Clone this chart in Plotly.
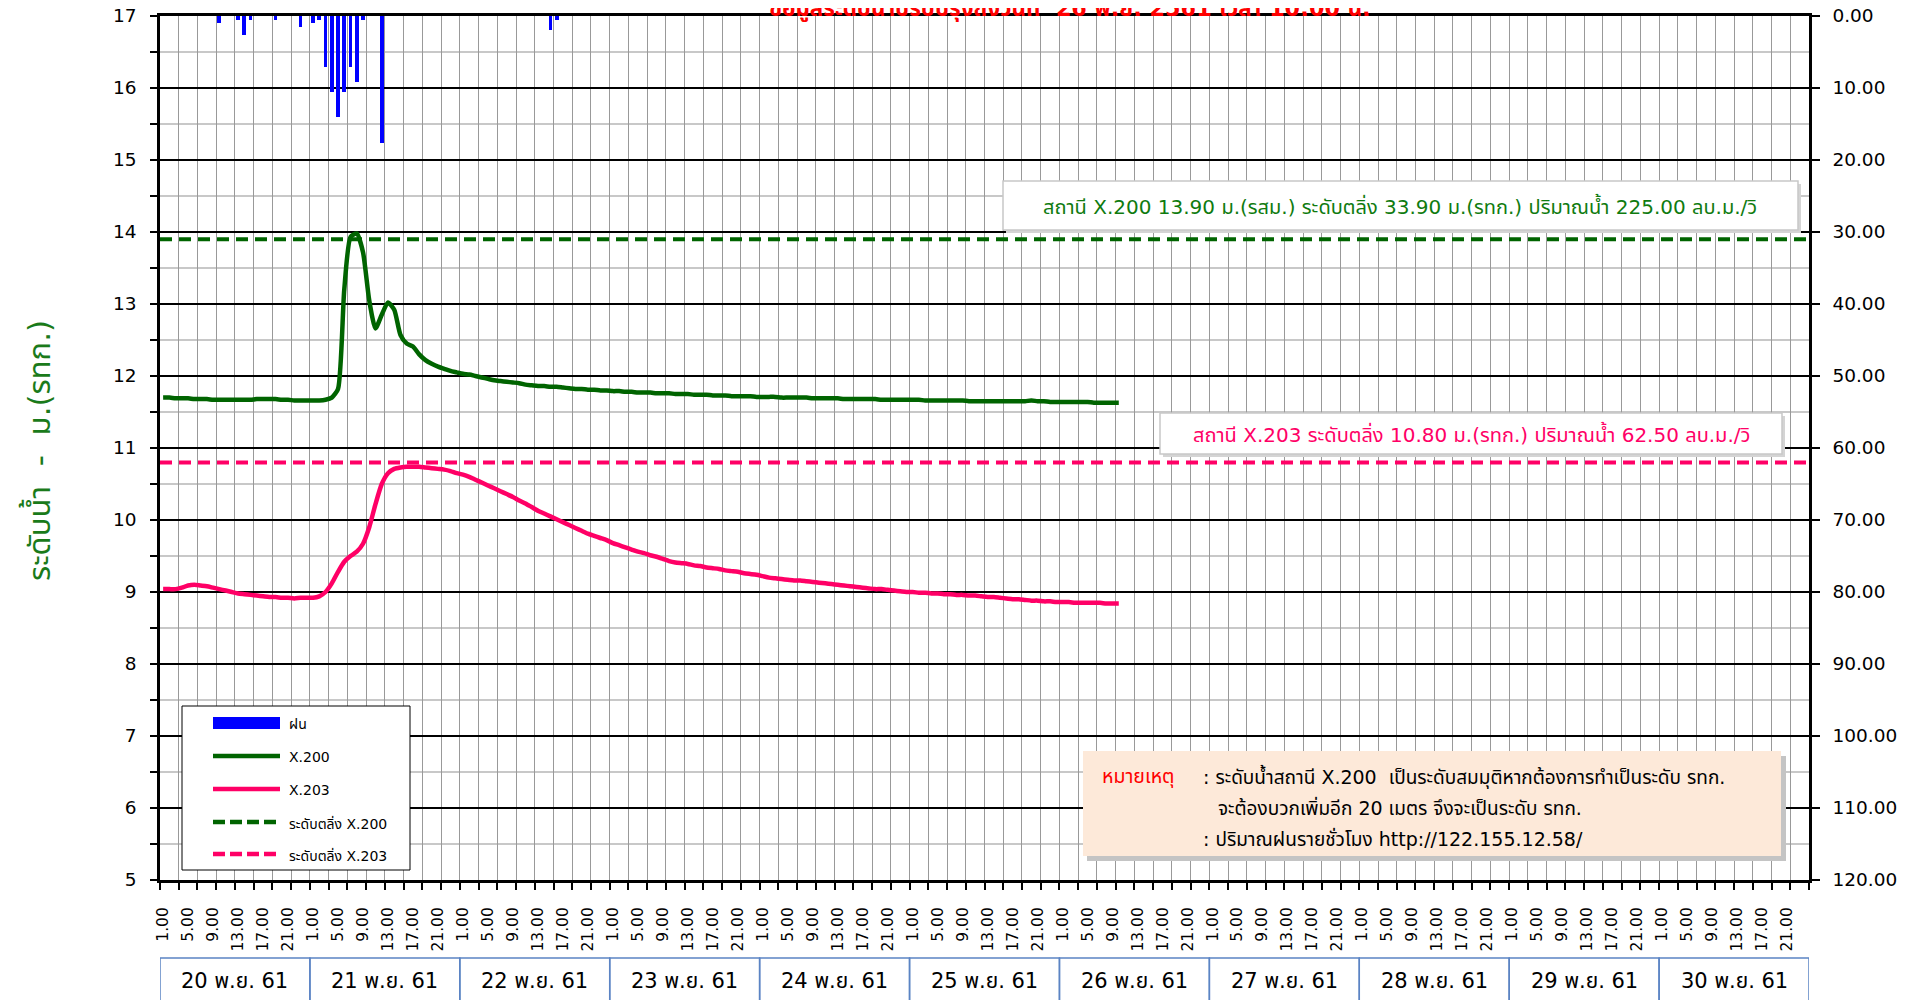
import plotly.graph_objects as go

# ---------------- data ----------------
days = ["20 พ.ย. 61", "21 พ.ย. 61", "22 พ.ย. 61", "23 พ.ย. 61", "24 พ.ย. 61",
        "25 พ.ย. 61", "26 พ.ย. 61", "27 พ.ย. 61", "28 พ.ย. 61", "29 พ.ย. 61",
        "30 พ.ย. 61"]
hour_labels = ["1.00", "5.00", "9.00", "13.00", "17.00", "21.00"]
slots_per_day = 24
label_step = 4
grid_step = 3

# hourly water level (m.) starting 20 Nov 1:00, last reading 26 Nov 10:00
x200_level = [
    11.70, 11.70, 11.69, 11.69, 11.69, 11.68, 11.68, 11.68, 11.67, 11.67,
    11.67, 11.67, 11.67, 11.67, 11.67, 11.68, 11.68, 11.68, 11.68, 11.67,
    11.67, 11.66, 11.66, 11.66, 11.66, 11.66, 11.67, 11.70, 11.82, 13.20,
    13.93, 13.98, 13.72, 13.05, 12.66, 12.85, 13.02, 12.92, 12.57, 12.45,
    12.41, 12.30, 12.22, 12.17, 12.13, 12.10, 12.07, 12.05, 12.03, 12.02,
    12.00, 11.98, 11.96, 11.94, 11.93, 11.92, 11.91, 11.90, 11.88, 11.87,
    11.86, 11.86, 11.85, 11.85, 11.84, 11.83, 11.82, 11.82, 11.81, 11.81,
    11.80, 11.80, 11.79, 11.79, 11.78, 11.78, 11.77, 11.77, 11.77, 11.76,
    11.76, 11.76, 11.75, 11.75, 11.75, 11.74, 11.74, 11.74, 11.73, 11.73,
    11.73, 11.72, 11.72, 11.72, 11.72, 11.71, 11.71, 11.71, 11.71, 11.70,
    11.70, 11.70, 11.70, 11.70, 11.69, 11.69, 11.69, 11.69, 11.69, 11.68,
    11.68, 11.68, 11.68, 11.68, 11.68, 11.67, 11.67, 11.67, 11.67, 11.67,
    11.67, 11.67, 11.66, 11.66, 11.66, 11.66, 11.66, 11.66, 11.66, 11.65,
    11.65, 11.65, 11.65, 11.65, 11.65, 11.65, 11.65, 11.65, 11.65, 11.66,
    11.65, 11.65, 11.64, 11.64, 11.64, 11.64, 11.64, 11.64, 11.64, 11.63,
    11.63, 11.63, 11.63, 11.63,
]
x203_level = [
    9.04, 9.04, 9.04, 9.06, 9.09, 9.10, 9.09, 9.08, 9.06, 9.04,
    9.02, 9.00, 8.98, 8.97, 8.96, 8.95, 8.94, 8.93, 8.93, 8.92,
    8.92, 8.91, 8.92, 8.92, 8.92, 8.94, 9.00, 9.12, 9.28, 9.42,
    9.50, 9.56, 9.67, 9.90, 10.22, 10.50, 10.65, 10.71, 10.73, 10.74,
    10.74, 10.74, 10.73, 10.72, 10.71, 10.70, 10.68, 10.65, 10.63, 10.60,
    10.56, 10.52, 10.48, 10.44, 10.40, 10.36, 10.32, 10.27, 10.23, 10.18,
    10.13, 10.09, 10.05, 10.01, 9.97, 9.93, 9.89, 9.85, 9.81, 9.78,
    9.75, 9.72, 9.68, 9.65, 9.62, 9.59, 9.56, 9.54, 9.51, 9.49,
    9.46, 9.43, 9.41, 9.40, 9.39, 9.37, 9.36, 9.34, 9.33, 9.32,
    9.30, 9.29, 9.28, 9.26, 9.25, 9.24, 9.22, 9.20, 9.19, 9.18,
    9.17, 9.16, 9.16, 9.15, 9.14, 9.13, 9.12, 9.11, 9.10, 9.09,
    9.08, 9.07, 9.06, 9.05, 9.04, 9.04, 9.03, 9.02, 9.01, 9.00,
    9.00, 8.99, 8.99, 8.98, 8.98, 8.97, 8.97, 8.96, 8.96, 8.95,
    8.95, 8.94, 8.93, 8.93, 8.92, 8.91, 8.90, 8.90, 8.89, 8.88,
    8.88, 8.87, 8.87, 8.86, 8.86, 8.86, 8.85, 8.85, 8.85, 8.85,
    8.85, 8.84, 8.84, 8.84,
]
# hourly rainfall (mm.), slot index counted from 20 Nov 1:00
rain_slot = [9, 12, 13, 14, 18, 22, 24, 25, 26, 27, 28, 29, 30, 31, 32, 35, 62, 63]
rain_mm = [1.0, 0.5, 2.6, 0.5, 0.5, 1.5, 1.0, 0.5, 7.1, 10.5, 14.0, 10.5, 7.1, 9.1,
           0.5, 17.6, 2.0, 0.5]
bank_x200 = 13.90
bank_x203 = 10.80

series_names = ["ฝน", "X.200", "X.203", "ระดับตลิ่ง X.200", "ระดับตลิ่ง X.203"]
title_text = "ข้อมูลระดับน้ำปรับปรุงถึงวันที่  26 พ.ย. 2561 เวลา 10:00 น."
x200_note = "สถานี X.200 13.90 ม.(รสม.) ระดับตลิ่ง 33.90 ม.(รทก.) ปริมาณน้ำ 225.00 ลบ.ม./วิ"
x203_note = "สถานี X.203 ระดับตลิ่ง 10.80 ม.(รทก.) ปริมาณน้ำ 62.50 ลบ.ม./วิ"
remark_head = "หมายเหตุ"
remark_lines = [": ระดับน้ำสถานี X.200  เป็นระดับสมมุติหากต้องการทำเป็นระดับ รทก.",
                "จะต้องบวกเพิ่มอีก 20 เมตร จึงจะเป็นระดับ รทก.",
                ": ปริมาณฝนรายชั่วโมง http://122.155.12.58/"]
y_title = "ระดับน้ำ  -  ม.(รทก.)"

# ---------------- layout helpers (page pixel coords) ----------------
OFF = 8                      # default page body margin
FIG_W, FIG_H = 1923 - OFF, 1000 - OFF
PL, PR, PT, PB = 160, 1809, 16, 880   # plot area in page pixels
PW, PH = PR - PL, PB - PT


def px(x):
    return (x - PL) / PW


def py(y):
    return (PB - y) / PH


n_slots = len(days) * slots_per_day
FONT = "Tahoma, 'DejaVu Sans', 'Noto Sans Thai', 'Noto Sans', sans-serif"
GREEN = "#006400"
PINK = "#ff0066"
BLUE = "#0000ff"

tickvals, ticktext = [], []
for d in range(len(days)):
    for k, lab in enumerate(hour_labels):
        tickvals.append(d * slots_per_day + k * label_step + 0.5)
        ticktext.append(lab)

fig = go.Figure()
fig.add_trace(go.Bar(
    x=[s + 0.5 for s in rain_slot], y=rain_mm, yaxis="y2", name=series_names[0],
    width=0.6, marker=dict(color=BLUE, line=dict(width=0))))
fig.add_trace(go.Scatter(
    x=[i + 0.5 for i in range(len(x200_level))], y=x200_level, mode="lines",
    name=series_names[1], line=dict(color=GREEN, width=4.5, shape="spline", smoothing=0.6)))
fig.add_trace(go.Scatter(
    x=[i + 0.5 for i in range(len(x203_level))], y=x203_level, mode="lines",
    name=series_names[2], line=dict(color=PINK, width=4.5, shape="spline", smoothing=0.6)))
fig.add_trace(go.Scatter(
    x=[0, n_slots], y=[bank_x200, bank_x200], mode="lines", xaxis="x2",
    name=series_names[3], line=dict(color=GREEN, width=4, dash="12px,7px")))
fig.add_trace(go.Scatter(
    x=[0, n_slots], y=[bank_x203, bank_x203], mode="lines", xaxis="x2",
    name=series_names[4], line=dict(color=PINK, width=4, dash="12px,7px")))

shapes = []
annotations = []


def ann(x, y, text, size, color, xanchor="center", yanchor="middle", **kw):
    d = dict(x=px(x), y=py(y), xref="paper", yref="paper", text=text, showarrow=False,
             xanchor=xanchor, yanchor=yanchor,
             font=dict(size=size, color=color, family=FONT))
    d.update(kw)
    annotations.append(d)


def rect(x0, y0, x1, y1, fill, line_color=None, lw=0):
    shapes.append(dict(type="rect", xref="paper", yref="paper",
                       x0=px(x0), x1=px(x1), y0=py(y1), y1=py(y0), fillcolor=fill,
                       line=dict(color=line_color or "rgba(0,0,0,0)", width=lw), layer="above"))


# day boxes under the axis
for d, lab in enumerate(days):
    shapes.append(dict(type="rect", xref="x", yref="paper",
                       x0=d * slots_per_day, x1=(d + 1) * slots_per_day,
                       y0=py(1015), y1=py(958),
                       line=dict(color="#5b84c4", width=1.5), fillcolor="rgba(0,0,0,0)"))
    annotations.append(dict(x=d * slots_per_day + slots_per_day / 2, y=py(981),
                            xref="x", yref="paper", text=lab, showarrow=False,
                            xanchor="center", yanchor="middle",
                            font=dict(size=21, color="black", family=FONT)))

# station boxes
rect(1006, 184, 1801, 233, "#d4d4d4")
rect(1003, 181, 1798, 230, "white", "#c8c8c8", 1.5)
ann(1400, 206, x200_note, 20, "#0f7b0f")
rect(1163, 416, 1785, 457, "#d4d4d4")
rect(1160, 413, 1782, 454, "white", "#c8c8c8", 1.5)
ann(1471, 434, x203_note, 20, PINK)

# remark box
rect(1087, 756, 1786, 861, "#c4c4c4")
rect(1083, 751, 1781, 856, "#fde9d9")
ann(1100, 776, remark_head, 19.5, "#ff0000", xanchor="left")
for txt, xx, yy in zip(remark_lines, [1201, 1216, 1201], [776, 807, 838]):
    ann(xx, yy, txt, 19, "black", xanchor="left")

# legend (drawn box)
rect(182, 706, 410, 870, "white", "black", 1)
leg_y = [723, 756, 789, 822, 854]
shapes.append(dict(type="rect", xref="paper", yref="paper", x0=px(213), x1=px(280),
                   y0=py(729), y1=py(717), fillcolor=BLUE, line=dict(width=0), layer="above"))
for yy, col, dash in zip(leg_y[1:], [GREEN, PINK, GREEN, PINK],
                         ["solid", "solid", "12px,5px", "12px,5px"]):
    shapes.append(dict(type="line", xref="paper", yref="paper", x0=px(213), x1=px(280),
                       y0=py(yy), y1=py(yy), line=dict(color=col, width=4.5, dash=dash),
                       layer="above"))
for yy, name in zip(leg_y, series_names):
    ann(287, yy + 1, name, 14, "black", xanchor="left")

# title (partly cut at top edge, as in the original) and y-axis title
ann(1070, 7, "<b>" + title_text + "</b>", 22.3, "#ff0000")
ann(37, 451, y_title, 31, "#1a7a1a", textangle=-90)

fig.update_layout(
    width=FIG_W, height=FIG_H, autosize=False,
    margin=dict(l=PL - OFF, r=FIG_W - (PR - OFF), t=PT - OFF, b=FIG_H - (PB - OFF), pad=0),
    paper_bgcolor="white", plot_bgcolor="white",
    font=dict(family=FONT, color="black"),
    showlegend=False,
    bargap=0,
    xaxis=dict(range=[0, n_slots], tickmode="linear", tick0=0, dtick=grid_step,
               showgrid=True, gridcolor="#999999", gridwidth=1.3,
               ticks="outside", ticklen=7, tickwidth=1.5, tickcolor="black",
               showticklabels=False, showline=True, linecolor="black", linewidth=2.5,
               mirror=True, zeroline=False, automargin=False),
    xaxis2=dict(range=[0, n_slots], overlaying="x", anchor="y", side="bottom",
                tickmode="array", tickvals=tickvals, ticktext=ticktext, tickangle=-90,
                showgrid=False, ticks="outside", ticklen=20, tickcolor="rgba(0,0,0,0)",
                showline=False, zeroline=False, automargin=False,
                tickfont=dict(size=15.5, family=FONT, color="black")),
    yaxis=dict(range=[5, 17], tickmode="linear", tick0=5, dtick=1,
               showgrid=True, gridcolor="black", gridwidth=2,
               ticks="outside", ticklen=7, tickwidth=2, tickcolor="black",
               showline=True, linecolor="black", linewidth=2.5, zeroline=False,
               ticklabelstandoff=10, automargin=False, ticklabeloverflow="allow",
               tickfont=dict(size=18.5, family=FONT, color="black"),
               minor=dict(dtick=0.5, tick0=5, showgrid=True, gridcolor="#c8c8c8", gridwidth=1.5,
                          ticks="outside", ticklen=7, tickwidth=2, tickcolor="black")),
    yaxis2=dict(range=[120, 0], overlaying="y", side="right", anchor="x",
                tickmode="linear", tick0=0, dtick=10, tickformat=".2f",
                showgrid=False, ticks="outside", ticklen=8, tickwidth=2, tickcolor="black",
                showline=True, linecolor="black", linewidth=2.5, zeroline=False,
                ticklabelstandoff=9, automargin=False, ticklabeloverflow="allow",
                tickfont=dict(size=18.5, family=FONT, color="black")),
    shapes=shapes, annotations=annotations,
)

fig.write_html("out.html")
